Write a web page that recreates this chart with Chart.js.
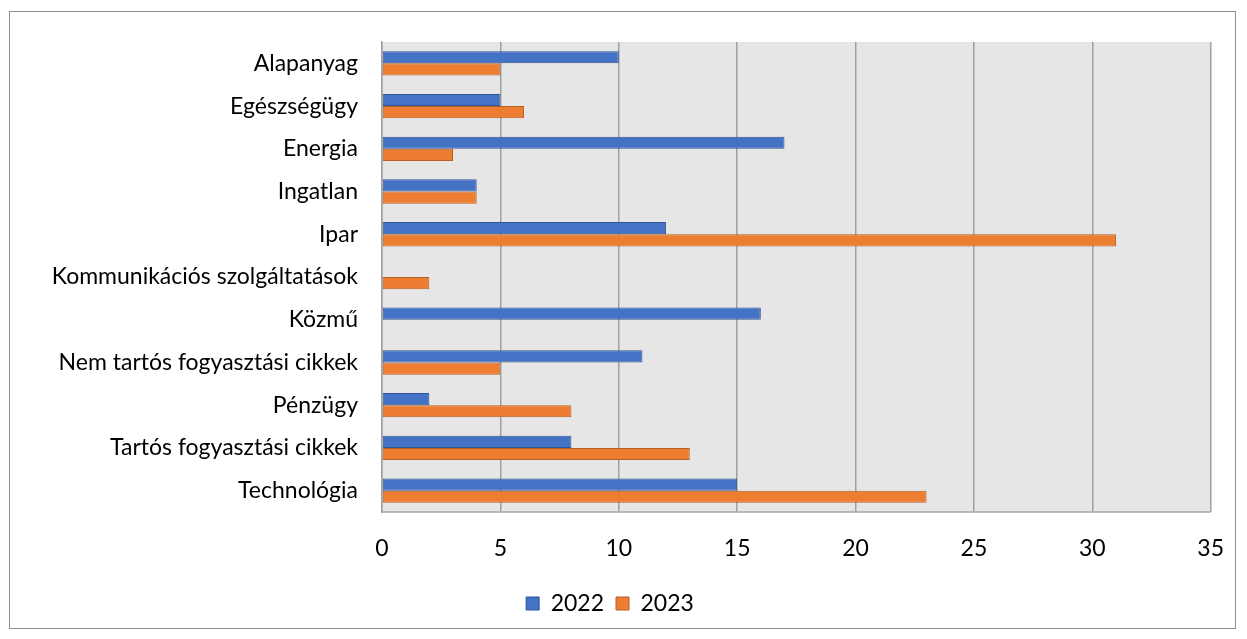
<!DOCTYPE html>
<html>
<head>
<meta charset="utf-8">
<script src="https://cdn.jsdelivr.net/npm/chart.js@4/dist/chart.umd.min.js"></script>
<style>
    html, body { margin: 0; padding: 0; background: #fff; }
    #wrap { position: relative; width: 1247px; height: 639px; }
    #frame {
        position: absolute; left: 9px; top: 11px; width: 1227px; height: 618px;
        border: 1px solid #8f8f8f; box-sizing: border-box; pointer-events: none;
    }
    canvas { position: absolute; left: 0; top: 0; }
</style>
</head>
<body>
<div id="wrap">
    <canvas id="chart" width="1247" height="639"></canvas>
    <div id="frame"></div>
</div>
<script>
// Data
const categories = [
    'Alapanyag', 'Egészségügy', 'Energia', 'Ingatlan', 'Ipar',
    'Kommunikációs szolgáltatások', 'Közmű', 'Nem tartós fogyasztási cikkek',
    'Pénzügy', 'Tartós fogyasztási cikkek', 'Technológia'
];
const values2022 = [10, 5, 17, 4, 12, 0, 16, 11, 2, 8, 15];
const values2023 = [5, 6, 3, 4, 31, 2, 0, 5, 8, 13, 23];
const xTicks = [0, 5, 10, 15, 20, 25, 30, 35];

const FONT = 'Lato, "Open Sans", sans-serif';
const FONT_SIZE = 23;

// gray plot background + bottom edge
const plotBackground = {
    id: 'plotBackground',
    beforeDraw(chart) {
        const { ctx, chartArea: a } = chart;
        ctx.save();
        ctx.fillStyle = '#e7e6e6';
        ctx.fillRect(a.left, a.top, a.right - a.left, a.bottom - a.top);
        ctx.restore();
    },
    afterDatasetsDraw(chart) {
        const { ctx, chartArea: a } = chart;
        ctx.save();
        ctx.strokeStyle = '#a6a6a6';
        ctx.lineWidth = 1.5;
        ctx.beginPath();
        ctx.moveTo(a.left, a.bottom);
        ctx.lineTo(a.right, a.bottom);
        ctx.stroke();
        ctx.restore();
    }
};

new Chart(document.getElementById('chart'), {
    type: 'bar',
    data: {
        labels: categories,
        datasets: [
            {
                label: '2022',
                data: values2022,
                backgroundColor: '#4472c4',
                borderColor: '#2f5597',
                borderWidth: 1,
                borderSkipped: false,
                categoryPercentage: 0.57,
                barPercentage: 1.0
            },
            {
                label: '2023',
                data: values2023,
                backgroundColor: '#ed7d31',
                borderColor: '#b85e22',
                borderWidth: 1,
                borderSkipped: false,
                categoryPercentage: 0.57,
                barPercentage: 1.0
            }
        ]
    },
    options: {
        indexAxis: 'y',
        responsive: false,
        animation: false,
        layout: { padding: { top: 42, right: 27, bottom: 14, left: 0 } },
        plugins: {
            tooltip: { enabled: false },
            legend: {
                position: 'bottom',
                labels: {
                    font: { family: FONT, size: FONT_SIZE },
                    color: '#000',
                    boxWidth: 13,
                    boxHeight: 13,
                    padding: 12
                }
            }
        },
        scales: {
            x: {
                min: 0,
                max: 35,
                afterBuildTicks(scale) {
                    scale.ticks = xTicks.map(v => ({ value: v }));
                },
                grid: { color: '#a0a0a0', lineWidth: 1.5, drawTicks: false },
                border: { display: false },
                ticks: {
                    font: { family: FONT, size: FONT_SIZE },
                    color: '#000',
                    padding: 23
                },
                afterFit(scale) { scale.height = 68; }
            },
            y: {
                grid: { display: false, drawTicks: false },
                border: { display: true, color: '#a0a0a0', width: 1.5 },
                ticks: {
                    font: { family: FONT, size: FONT_SIZE },
                    color: '#000',
                    padding: 24
                },
                afterFit(scale) { scale.width = 382; }
            }
        }
    },
    plugins: [plotBackground]
});
</script>
</body>
</html>
